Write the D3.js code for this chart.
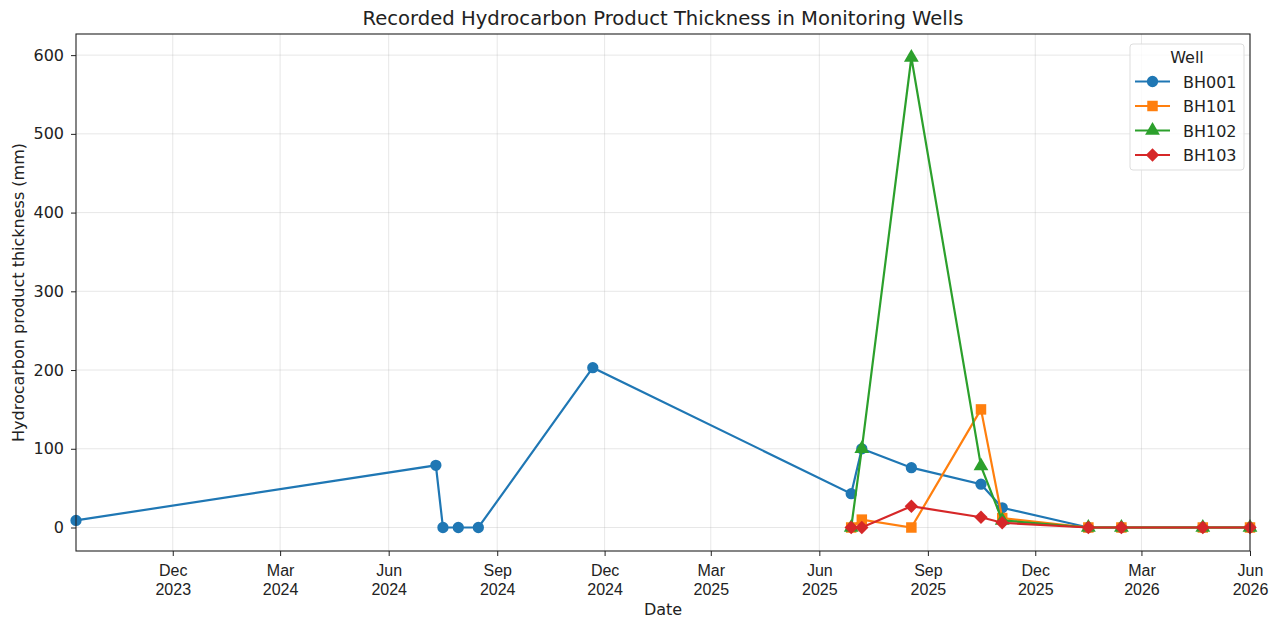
<!DOCTYPE html>
<html>
<head>
<meta charset="utf-8">
<script src="https://cdn.jsdelivr.net/npm/d3@7"></script>
<style>
  body { margin: 0; background: #fff; }
  svg { font-family: "DejaVu Sans", sans-serif; }
</style>
</head>
<body>
<div id="chart"></div>
<script>
const parse = d3.timeParse('%Y-%m-%d');

// BH001 readings
const bh001Dates = ['2023-09-10', '2024-07-11', '2024-07-17', '2024-07-30', '2024-08-16', '2024-11-21',
    '2025-06-28', '2025-07-07', '2025-08-18', '2025-10-16', '2025-11-03',
    '2026-01-15', '2026-02-12', '2026-04-22', '2026-06-01'];
const bh001Values = [9, 79, 0, 0, 0, 203, 43, 100, 76, 55, 25, 0, 0, 0, 0];

// later wells share the same visit dates
const wellDates = ['2025-06-28', '2025-07-07', '2025-08-18', '2025-10-16', '2025-11-03',
    '2026-01-15', '2026-02-12', '2026-04-22', '2026-06-01'];
const bh101Values = [0, 10, 0, 150, 12, 0, 0, 0, 0];
const bh102Values = [0, 100, 597, 78, 9, 0, 0, 0, 0];
const bh103Values = [0, 0, 27, 13, 6, 0, 0, 0, 0];

const wellNames = ['BH001', 'BH101', 'BH102', 'BH103'];
const wellColors = ['#1f77b4', '#ff7f0e', '#2ca02c', '#d62728'];
const wellMarkers = ['circle', 'square', 'triangle', 'diamond'];

const xTickDates = ['2023-12-01', '2024-03-01', '2024-06-01', '2024-09-01', '2024-12-01', '2025-03-01',
    '2025-06-01', '2025-09-01', '2025-12-01', '2026-03-01', '2026-06-01'];
const yTicks = [0, 100, 200, 300, 400, 500, 600];

const series = [
    {name: wellNames[0], dates: bh001Dates, values: bh001Values},
    {name: wellNames[1], dates: wellDates, values: bh101Values},
    {name: wellNames[2], dates: wellDates, values: bh102Values},
    {name: wellNames[3], dates: wellDates, values: bh103Values}
].map((s, i) => ({
    name: s.name,
    color: wellColors[i],
    marker: wellMarkers[i],
    points: s.values.map((v, j) => ({date: parse(s.dates[j]), value: v}))
}));

const width = 1279, height = 618;
const margin = {top: 34, right: 29, bottom: 67, left: 76};
const innerW = width - margin.left - margin.right;
const innerH = height - margin.top - margin.bottom;

const allPoints = series.flatMap(s => s.points);
const x = d3.scaleTime()
    .domain(d3.extent(allPoints, d => d.date))
    .range([0, innerW]);

const yMax = d3.max(allPoints, d => d.value);
const pad = yMax * 0.05;
const y = d3.scaleLinear()
    .domain([-pad, yMax + pad])
    .range([innerH, 0]);

const svg = d3.select('#chart').append('svg')
    .attr('width', width)
    .attr('height', height);

const g = svg.append('g')
    .attr('transform', `translate(${margin.left},${margin.top})`);

const tickVals = xTickDates.map(parse);

// grid
g.append('g').selectAll('line')
    .data(tickVals)
    .enter().append('line')
    .attr('x1', d => x(d)).attr('x2', d => x(d))
    .attr('y1', 0).attr('y2', innerH)
    .style('stroke', '#b0b0b0').style('stroke-opacity', 0.3).style('stroke-width', 1);
g.append('g').selectAll('line')
    .data(yTicks)
    .enter().append('line')
    .attr('x1', 0).attr('x2', innerW)
    .attr('y1', d => y(d)).attr('y2', d => y(d))
    .style('stroke', '#b0b0b0').style('stroke-opacity', 0.3).style('stroke-width', 1);

// matplotlib 'D' is a square turned 45 degrees
const diamondType = {
    draw(ctx, size) {
        const r = Math.sqrt(size / 2);
        ctx.moveTo(0, -r);
        ctx.lineTo(r, 0);
        ctx.lineTo(0, r);
        ctx.lineTo(-r, 0);
        ctx.closePath();
    }
};

const symbolFor = {
    circle: d3.symbol().type(d3.symbolCircle).size(100),
    square: d3.symbol().type(d3.symbolSquare).size(110),
    triangle: d3.symbol().type(d3.symbolTriangle).size(95),
    diamond: d3.symbol().type(diamondType).size(90)
};

const line = d3.line()
    .x(d => x(d.date))
    .y(d => y(d.value));

series.forEach(s => {
    const sg = g.append('g');
    sg.append('path')
        .attr('d', line(s.points))
        .style('fill', 'none')
        .style('stroke', s.color)
        .style('stroke-width', 2.2);
    sg.selectAll('path.marker')
        .data(s.points)
        .enter().append('path')
        .attr('class', 'marker')
        .attr('d', symbolFor[s.marker])
        .attr('transform', d => `translate(${x(d.date)},${y(d.value)})`)
        .style('fill', s.color);
});

// frame
g.append('rect')
    .attr('width', innerW).attr('height', innerH)
    .style('fill', 'none').style('stroke', '#222').style('stroke-width', 1.1);

// X axis
const xAxis = g.append('g')
    .attr('transform', `translate(0,${innerH})`)
    .call(d3.axisBottom(x).tickValues(tickVals).tickSize(5).tickFormat(''));
xAxis.select('.domain').remove();
xAxis.selectAll('.tick line').style('stroke', '#222');
xAxis.selectAll('.tick').each(function (d) {
    const t = d3.select(this).append('text')
        .style('fill', '#222')
        .style('font-size', '16px')
        .style('text-anchor', 'middle');
    t.append('tspan').attr('x', 0).attr('y', 25).text(d3.timeFormat('%b')(d));
    t.append('tspan').attr('x', 0).attr('y', 44).text(d3.timeFormat('%Y')(d));
});

// Y axis
const yAxis = g.append('g')
    .call(d3.axisLeft(y).tickValues(yTicks).tickSize(5).tickPadding(7));
yAxis.select('.domain').remove();
yAxis.selectAll('.tick line').style('stroke', '#222');
yAxis.selectAll('.tick text').style('font-size', '16px').style('fill', '#222')
    .style('font-family', '"DejaVu Sans", sans-serif');

// labels
svg.append('text')
    .attr('x', margin.left + innerW / 2).attr('y', 25)
    .style('text-anchor', 'middle').style('font-size', '19.6px').style('fill', '#222')
    .text('Recorded Hydrocarbon Product Thickness in Monitoring Wells');

svg.append('text')
    .attr('x', margin.left + innerW / 2).attr('y', 615)
    .style('text-anchor', 'middle').style('font-size', '16px').style('fill', '#222')
    .text('Date');

svg.append('text')
    .attr('transform', `translate(24,${margin.top + innerH / 2}) rotate(-90)`)
    .style('text-anchor', 'middle').style('font-size', '16px').style('fill', '#222')
    .text('Hydrocarbon product thickness (mm)');

// legend
const legend = svg.append('g').attr('transform', 'translate(1130,44)');
legend.append('rect')
    .attr('width', 114).attr('height', 126).attr('rx', 3)
    .style('fill', '#fff').style('fill-opacity', 0.8)
    .style('stroke', '#ddd').style('stroke-width', 1);
legend.append('text')
    .attr('x', 57).attr('y', 19)
    .style('text-anchor', 'middle').style('font-size', '16px').style('fill', '#222')
    .text('Well');
series.forEach((s, i) => {
    const ly = 37.5 + i * 24.5;
    legend.append('line')
        .attr('x1', 5).attr('x2', 40).attr('y1', ly).attr('y2', ly)
        .style('stroke', s.color).style('stroke-width', 2.2);
    legend.append('path')
        .attr('d', symbolFor[s.marker])
        .attr('transform', `translate(22.5,${ly})`)
        .style('fill', s.color);
    legend.append('text')
        .attr('x', 53).attr('y', ly + 6)
        .style('font-size', '16px').style('fill', '#222')
        .text(s.name);
});
</script>
</body>
</html>
